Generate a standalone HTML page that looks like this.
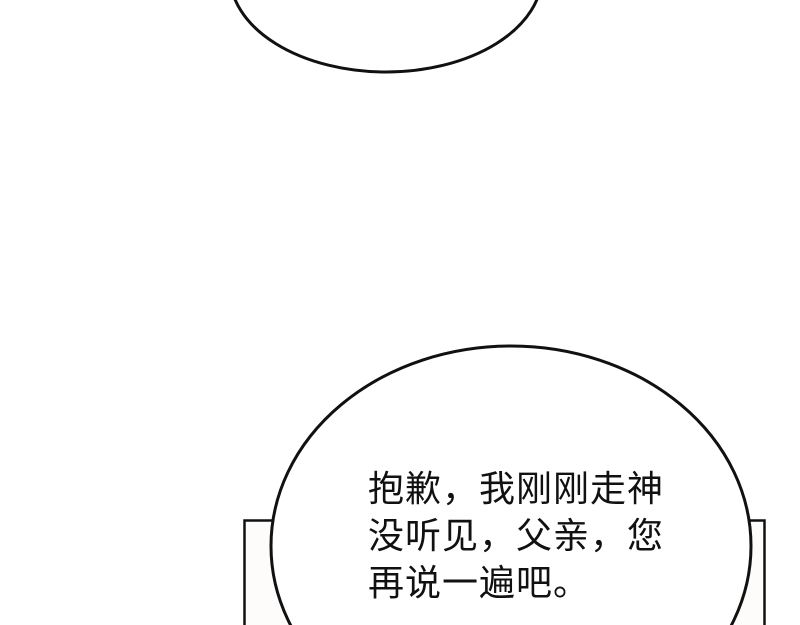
<!DOCTYPE html>
<html><head><meta charset="utf-8"><style>
html,body{margin:0;padding:0;background:#fff;width:800px;height:625px;overflow:hidden;}
.w{position:relative;width:800px;height:625px;overflow:hidden;}
svg{position:absolute;left:0;top:0;}
.t{position:absolute;left:368px;top:465px;font-family:"Liberation Sans","Noto Sans CJK SC",sans-serif;font-size:36px;line-height:47px;letter-spacing:1px;color:#111;white-space:nowrap;}
</style></head><body><div class="w">
<svg width="800" height="625" viewBox="0 0 800 625">
<ellipse cx="386" cy="-25" rx="156" ry="97" fill="#fff" stroke="#111" stroke-width="3"/>
<path d="M244.5 625 V520.5 H764.5 V625" fill="#fdfcfb" stroke="#111" stroke-width="2.5"/>
<ellipse cx="511" cy="546" rx="240" ry="200" fill="#fff" stroke="#111" stroke-width="3"/>
</svg>
<div class="t">抱歉，我刚刚走神<br>没听见，父亲，您<br>再说一遍吧。</div>
</div></body></html>
